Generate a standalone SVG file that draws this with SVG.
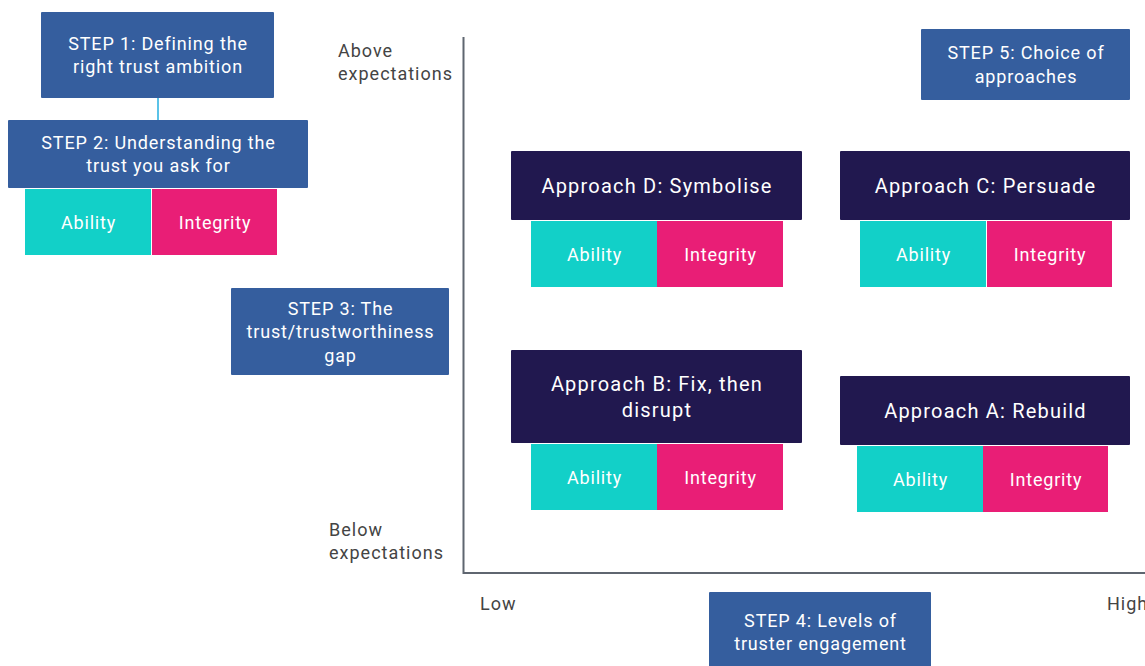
<svg xmlns="http://www.w3.org/2000/svg" width="1145" height="666" viewBox="0 0 1145 666">
<style>
text{font-family:Roboto,"Liberation Sans",sans-serif;}
.step{fill:#355e9e;}
.appr{fill:#21184f;}
.ab{fill:#12d0c8;}
.in{fill:#e91e76;}
.st{fill:#fff;font-size:18px;text-anchor:middle;letter-spacing:0.85px;}
.at{fill:#fff;font-size:20px;text-anchor:middle;letter-spacing:1.2px;}
.lt{fill:#fff;font-size:18px;text-anchor:middle;letter-spacing:0.8px;}
.ax{fill:#444;font-size:18px;letter-spacing:1px;}
</style>
<rect width="1145" height="666" fill="#fff"/>
<g id="connectors">
<line x1="158" y1="98" x2="158" y2="120" stroke="#5bc3e8" stroke-width="2"/>
</g>
<g id="axes">
<polyline points="463.5,37 463.5,573 1145,573" fill="none" stroke="#5f6670" stroke-width="2"/>
<text class="ax" x="338" y="57">Above</text>
<text class="ax" x="338" y="80">expectations</text>
<text class="ax" x="329" y="536">Below</text>
<text class="ax" x="329" y="559">expectations</text>
<text class="ax" x="480" y="610">Low</text>
<text class="ax" x="1107" y="610">High</text>
</g>
<g id="step1">
<rect class="step" x="41" y="12" width="233" height="86" rx="1"/>
<text class="st" x="158" y="50">STEP 1: Defining the</text>
<text class="st" x="158" y="73">right trust ambition</text>
</g>
<g id="step2">
<rect class="step" x="8" y="120" width="300" height="68" rx="1"/>
<text class="st" x="158.5" y="149">STEP 2: Understanding the</text>
<text class="st" x="158.5" y="172">trust you ask for</text>
<rect class="ab" x="25" y="189" width="126" height="66"/>
<text class="lt" x="88.5" y="229">Ability</text>
<rect class="in" x="152" y="189" width="125" height="66"/>
<text class="lt" x="215" y="229">Integrity</text>
</g>
<g id="step3">
<rect class="step" x="231" y="288" width="218" height="87" rx="1"/>
<text class="st" x="340.5" y="315">STEP 3: The</text>
<text class="st" x="340.5" y="338">trust/trustworthiness</text>
<text class="st" x="340.5" y="362">gap</text>
</g>
<g id="step4">
<rect class="step" x="709" y="592" width="222" height="80" rx="1"/>
<text class="st" x="820.5" y="627">STEP 4: Levels of</text>
<text class="st" x="820.5" y="650">truster engagement</text>
</g>
<g id="step5">
<rect class="step" x="921" y="29" width="209" height="71" rx="1"/>
<text class="st" x="1026" y="59">STEP 5: Choice of</text>
<text class="st" x="1026" y="83">approaches</text>
</g>
<g id="approachD">
<rect class="appr" x="511" y="151" width="291" height="69" rx="1"/>
<text class="at" x="657" y="193">Approach D: Symbolise</text>
<rect class="ab" x="531" y="221" width="126" height="66"/>
<text class="lt" x="594.5" y="261">Ability</text>
<rect class="in" x="657" y="221" width="126" height="66"/>
<text class="lt" x="720.5" y="261">Integrity</text>
</g>
<g id="approachC">
<rect class="appr" x="840" y="151" width="290" height="69" rx="1"/>
<text class="at" x="985.5" y="193">Approach C: Persuade</text>
<rect class="ab" x="860" y="221" width="126" height="66"/>
<text class="lt" x="923.5" y="261">Ability</text>
<rect class="in" x="987" y="221" width="125" height="66"/>
<text class="lt" x="1050" y="261">Integrity</text>
</g>
<g id="approachB">
<rect class="appr" x="511" y="350" width="291" height="93" rx="1"/>
<text class="at" x="657" y="391">Approach B: Fix, then</text>
<text class="at" x="657" y="417">disrupt</text>
<rect class="ab" x="531" y="444" width="126" height="66"/>
<text class="lt" x="594.5" y="484">Ability</text>
<rect class="in" x="657" y="444" width="126" height="66"/>
<text class="lt" x="720.5" y="484">Integrity</text>
</g>
<g id="approachA">
<rect class="appr" x="840" y="376" width="290" height="69" rx="1"/>
<text class="at" x="985.5" y="418">Approach A: Rebuild</text>
<rect class="ab" x="857" y="446" width="126" height="66"/>
<text class="lt" x="920.5" y="486">Ability</text>
<rect class="in" x="983" y="446" width="125" height="66"/>
<text class="lt" x="1046" y="486">Integrity</text>
</g>
</svg>
